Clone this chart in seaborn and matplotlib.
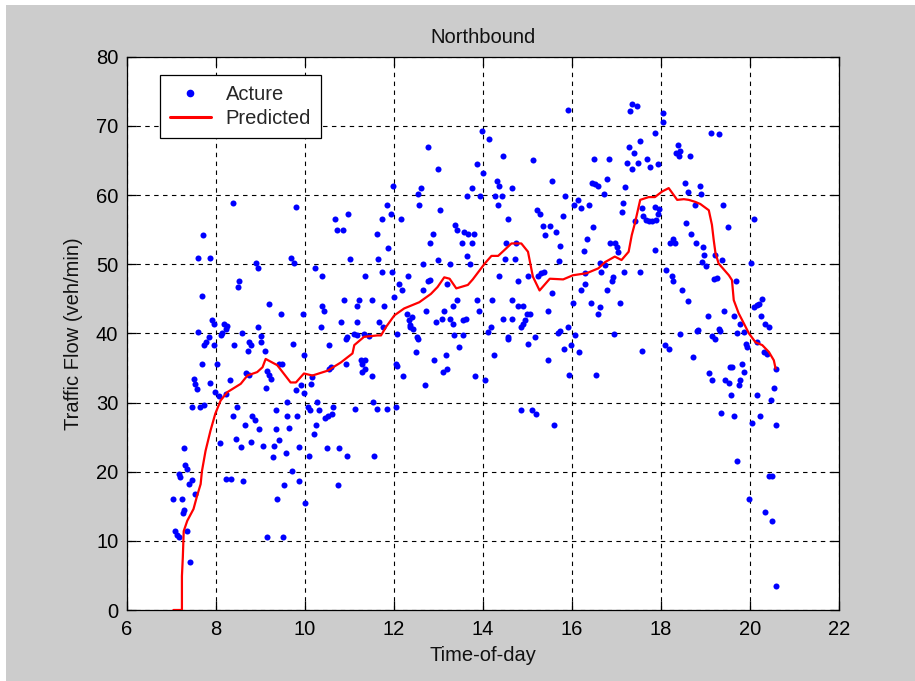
import matplotlib
matplotlib.use("Agg")
import matplotlib.pyplot as plt
from matplotlib.lines import Line2D
from matplotlib.patches import Rectangle
import seaborn as sns
import pandas as pd

# Observed traffic flow (time of day in hours, flow in veh/min)
acture_time = [
    8.39, 9.80, 10.67, 10.72, 7.72, 7.60, 7.86, 8.91, 8.95, 9.68, 9.75, 10.23, 10.39, 8.53, 8.50, 7.68,
    9.20, 9.46, 9.95, 10.39, 10.42, 7.92, 7.96, 8.18, 8.22, 8.15, 8.25, 7.60, 7.84, 8.58, 8.95, 9.01,
    10.36, 10.81,
    7.77, 7.73, 7.96, 8.11, 8.42, 8.74, 8.78, 8.72, 9.01, 9.10, 9.73, 9.98, 10.55, 7.69, 8.02, 7.50,
    7.53, 7.57, 7.86, 7.98, 8.07, 8.32, 8.23, 8.67, 8.74, 9.16, 9.20, 9.23, 9.42, 9.49, 9.13, 9.80,
    9.91, 9.97, 10.13, 10.17, 10.55, 10.58, 7.47, 7.64, 7.73, 8.47, 8.39, 8.65, 8.82, 8.88, 8.98, 9.36,
    9.36, 9.59, 9.64, 9.61, 9.83, 10.06, 10.12, 10.28, 10.32, 10.45, 10.51, 10.62, 10.64, 10.25, 10.20, 8.09,
    8.46, 8.57, 8.78, 9.06, 9.31, 9.42, 9.28, 9.57, 9.87, 10.10, 10.49, 10.77, 7.28, 7.32, 7.36, 7.17,
    7.20, 7.47, 7.39, 7.53, 7.05, 7.24, 7.28, 7.26, 7.08, 7.13, 7.17, 7.36, 7.43, 8.23, 8.35, 8.61,
    9.72, 9.86, 9.53, 9.38, 10.00, 10.75, 9.16, 9.50,
    13.98, 14.13, 12.76, 14.46, 12.99, 13.86, 14.01, 14.31, 14.35, 14.64, 11.97, 12.60, 12.54, 13.75, 13.65, 13.94,
    14.26, 14.43, 14.34, 12.57, 11.84, 10.98, 10.85, 11.73, 11.94, 12.16, 13.04, 14.56, 13.38, 13.42, 13.57, 13.66,
    13.80, 12.87, 12.82, 11.61, 11.87, 13.53, 13.75, 14.52, 13.65, 11.02, 11.65, 12.99, 12.65, 13.25, 13.70, 14.49,
    11.35, 11.73, 11.96, 12.31, 12.12, 12.18, 12.76, 12.80, 12.65, 13.20, 14.37, 10.87, 11.22, 11.17, 11.50, 11.78,
    12.01, 12.72, 13.12, 13.32, 13.42, 13.86, 13.90, 14.21, 11.17, 11.67, 11.75, 12.30, 12.33, 12.36, 12.40,
    12.42, 12.37, 12.95, 13.08, 13.27, 13.32, 13.55, 13.62, 14.45, 14.64, 14.19, 14.11, 10.94, 11.11, 11.33, 12.08,
    12.52, 13.36, 13.55,
    10.93, 11.18, 11.45, 10.92, 11.26, 11.28, 11.36, 11.35, 11.29, 11.50, 12.54, 12.50, 12.05, 12.07, 12.20, 12.69,
    12.91, 13.17, 13.10, 13.20, 13.46, 13.83, 14.05, 14.24, 14.56, 11.12, 11.54, 11.62, 11.84, 12.05, 10.94, 11.56,
    17.34, 17.45, 17.30, 15.90, 18.05, 18.05, 17.86, 17.53, 17.27, 17.38, 15.12, 16.50, 16.82, 17.23, 17.49, 17.68,
    17.75, 17.94, 17.34, 15.56, 16.44, 16.51, 16.59, 16.79, 17.19, 16.72, 15.84, 16.14, 16.05, 16.20, 16.38, 17.15,
    17.11, 15.22, 15.27, 15.79, 17.58, 17.60, 17.66, 17.73, 17.80, 17.88, 17.92, 17.95, 17.86, 17.41, 15.35, 15.50,
    15.40, 15.63, 16.46, 16.34, 15.74, 16.27, 16.85, 16.96, 17.00, 17.04, 14.75, 18.19, 18.26, 18.31, 17.86, 14.71,
    15.71, 16.66, 16.62, 16.75, 15.31, 15.36, 15.24, 15.01, 14.79, 16.29, 16.28, 16.21, 16.93, 16.89, 16.79, 17.17,
    17.53, 18.11, 18.24, 18.26, 18.47, 15.54, 16.01, 16.42, 17.08, 16.63, 16.59, 14.64, 14.79, 14.90, 14.98, 15.05,
    14.94, 14.86, 14.90, 15.45, 15.73, 15.69, 15.90, 16.06, 14.56, 15.16,
    15.01, 15.82, 15.97, 16.16, 15.46, 15.94, 16.53, 16.94, 17.57, 18.08, 18.17, 18.43, 14.86, 15.09, 15.18, 15.59,
    19.12, 19.31, 18.37, 18.33, 18.43, 18.39, 18.64, 18.53, 18.60, 18.87, 18.90, 18.75, 19.38, 18.56, 19.49, 20.08,
    18.68, 18.79, 18.94, 18.97, 18.92, 19.01, 19.22, 19.37, 20.01, 18.60, 19.19, 19.26, 19.67, 19.41, 19.05, 19.63,
    20.08, 20.16, 20.27, 20.19, 20.25, 20.34, 20.42, 19.77, 19.31, 18.83, 19.14, 19.22, 19.71, 19.86,
    18.80, 19.33, 18.71, 19.90, 19.93, 20.16, 20.31, 20.38, 20.57, 19.07, 19.14, 19.55, 19.59, 19.81, 19.86, 19.44,
    19.52, 19.77, 19.74, 19.57, 20.16, 20.53, 20.46, 19.34, 19.63, 20.23, 20.05, 20.57, 19.71, 20.42, 20.49, 19.97,
    20.34, 20.49, 20.57,
]
acture_flow = [
    58.9, 58.3, 56.6, 54.9, 54.2, 50.9, 50.9, 50.2, 49.4, 50.9, 50.1, 49.5, 48.3, 47.5, 46.7, 45.4,
    44.2, 42.8, 42.8, 44.0, 43.2, 42.0, 41.4, 41.3, 40.6, 40.0, 41.0, 40.2, 39.5, 40.0, 40.9, 39.6,
    40.9, 41.6,
    38.7, 38.3, 38.3, 39.7, 38.3, 38.7, 38.3, 37.5, 38.7, 37.5, 38.5, 36.8, 38.3, 35.5, 35.5, 33.4,
    32.7, 32.0, 32.8, 31.5, 31.0, 33.2, 31.2, 34.2, 34.0, 34.6, 34.0, 33.4, 35.5, 35.5, 32.1, 31.8,
    32.5, 31.4, 32.7, 33.7, 34.9, 35.1, 29.4, 29.4, 29.7, 29.4, 28.0, 26.8, 28.0, 27.4, 26.1, 28.9,
    26.1, 28.0, 26.3, 30.1, 28.0, 29.4, 28.9, 30.1, 28.9, 27.7, 28.0, 28.4, 29.4, 26.7, 25.4, 24.2,
    24.7, 23.5, 24.3, 23.7, 23.7, 24.6, 22.1, 22.7, 23.5, 22.3, 23.4, 23.4, 23.4, 20.9, 20.4, 19.6,
    19.3, 18.8, 18.2, 16.8, 16.1, 16.1, 14.5, 14.0, 11.4, 10.9, 10.5, 11.4, 6.9, 18.9, 18.9, 18.7,
    20.1, 18.7, 18.1, 16.1, 15.5, 18.1, 10.6, 10.6,
    69.3, 68.1, 66.9, 65.7, 63.7, 64.5, 63.2, 62.1, 61.3, 61.0, 61.3, 61.0, 60.1, 61.0, 59.8, 59.8,
    59.8, 59.8, 58.5, 58.5, 58.5, 57.3, 54.9, 56.6, 57.2, 56.6, 57.8, 56.6, 55.6, 54.9, 54.7, 54.3,
    54.3, 54.3, 53.1, 54.3, 52.4, 53.1, 53.1, 53.1, 51.2, 50.7, 50.7, 50.6, 50.0, 50.0, 50.0, 50.7,
    48.3, 48.8, 48.8, 48.3, 47.2, 46.3, 47.5, 47.7, 46.3, 47.1, 48.3, 44.8, 44.8, 43.9, 44.8, 43.9,
    45.2, 43.3, 43.3, 43.9, 44.8, 44.8, 43.3, 44.8, 41.6, 41.6, 40.9, 42.8, 41.9, 41.2, 42.3,
    40.6, 40.9, 41.6, 42.1, 42.1, 41.4, 41.9, 42.1, 42.1, 42.1, 40.9, 40.2, 39.5, 39.9, 39.9, 39.9,
    39.5, 39.7, 39.7,
    39.2, 39.8, 39.6, 35.6, 36.1, 35.6, 36.1, 34.9, 34.4, 33.8, 39.2, 37.3, 35.6, 35.3, 33.8, 32.6,
    36.1, 36.8, 34.4, 34.9, 38.0, 33.8, 33.2, 36.8, 39.2, 29.0, 30.1, 29.0, 29.0, 29.4, 22.3, 22.3,
    73.1, 72.8, 72.1, 72.3, 71.8, 70.6, 69.0, 67.8, 66.9, 66.1, 65.0, 65.2, 65.2, 64.7, 64.7, 65.2,
    64.0, 64.5, 63.8, 62.1, 61.8, 61.6, 61.3, 62.3, 61.1, 60.1, 59.9, 59.3, 58.5, 58.1, 58.5, 58.8,
    57.6, 57.8, 57.2, 57.0, 58.1, 57.0, 56.4, 56.2, 56.2, 56.4, 57.3, 58.0, 58.3, 56.2, 55.5, 55.5,
    54.2, 54.7, 55.4, 53.7, 52.6, 51.9, 53.1, 53.1, 52.5, 51.8, 53.1, 53.1, 53.7, 53.1, 52.1, 50.7,
    50.4, 48.9, 50.1, 49.9, 48.7, 48.9, 48.3, 48.3, 47.5, 48.7, 47.2, 46.2, 48.2, 47.5, 46.2, 48.8,
    48.8, 49.2, 48.3, 47.5, 46.3, 45.8, 44.4, 44.4, 44.4, 43.8, 42.8, 44.8, 43.9, 43.9, 42.8, 42.8,
    41.9, 40.9, 41.4, 43.2, 40.4, 40.0, 40.9, 39.7, 39.5, 39.5,
    38.5, 37.8, 38.3, 37.3, 36.1, 34.0, 34.0, 39.9, 37.5, 38.3, 37.8, 39.9, 28.9, 28.9, 28.3, 26.8,
    69.0, 68.8, 67.3, 66.1, 66.4, 65.6, 65.7, 61.8, 60.4, 61.3, 60.1, 58.5, 58.5, 55.9, 55.4, 56.6,
    54.3, 53.0, 52.5, 51.4, 50.3, 49.7, 51.3, 50.6, 50.2, 44.7, 47.8, 48.0, 47.6, 43.3, 42.5, 42.5,
    43.8, 44.1, 44.9, 44.3, 42.5, 41.4, 40.9, 41.4, 40.7, 40.5, 39.6, 39.2, 40.0, 40.2,
    40.3, 40.4, 36.6, 38.5, 38.0, 38.7, 37.3, 37.0, 34.9, 34.2, 33.3, 35.2, 35.2, 35.5, 34.4, 33.3,
    32.8, 33.2, 32.6, 31.1, 31.1, 32.1, 30.4, 28.5, 28.0, 28.0, 27.1, 26.8, 21.6, 19.4, 19.4, 16.0,
    14.2, 12.8, 3.5,
]

# Model output along the day
predicted_time = [
    7.05, 7.24, 7.24, 7.26, 7.28, 7.36, 7.50, 7.58, 7.66, 7.69, 7.77, 7.88, 7.99, 8.11, 8.26, 8.56,
    8.71, 8.93, 9.05, 9.12, 9.38, 9.68, 9.80, 9.98, 10.17, 10.51, 10.81, 11.07, 11.11, 11.33, 11.63, 11.71,
    11.82, 12.01, 12.23, 12.57, 12.83, 12.98, 13.13, 13.25, 13.40, 13.66, 13.77, 14.04, 14.19, 14.34, 14.64, 14.86,
    15.01, 15.12, 15.27, 15.50, 15.80, 16.02, 16.33, 16.59, 16.74, 16.96, 17.11, 17.27, 17.34, 17.41, 17.53, 17.72,
    17.86, 18.02, 18.17, 18.36, 18.51, 18.62, 18.77, 18.88, 19.07, 19.14, 19.18, 19.22, 19.29, 19.52, 19.59, 19.63,
    19.74, 19.86, 19.97, 20.12, 20.27, 20.42, 20.53, 20.57,
]
predicted_flow = [
    0.0, 0.0, 4.9, 7.6, 11.4, 12.9, 14.6, 16.5, 18.2, 20.1, 23.0, 25.9, 28.4, 30.3, 31.5, 32.7,
    33.9, 34.4, 35.1, 36.3, 35.4, 32.9, 32.9, 34.2, 33.9, 34.6, 35.8, 37.1, 38.3, 39.5, 39.7, 39.7,
    40.9, 42.6, 43.6, 44.5, 45.7, 46.7, 48.1, 47.9, 46.5, 47.0, 47.8, 50.1, 51.2, 51.2, 53.0, 53.0,
    51.8, 48.2, 46.2, 47.9, 47.8, 48.4, 48.7, 49.4, 50.3, 51.1, 50.6, 51.8, 54.2, 55.9, 59.3, 59.7,
    59.7, 60.5, 61.0, 59.3, 59.4, 59.3, 59.0, 58.7, 57.8, 55.7, 53.5, 51.6, 50.1, 48.4, 47.7, 44.8,
    42.9, 41.4, 40.0, 38.7, 38.3, 37.3, 36.1, 34.9,
]

x_ticks = [6, 8, 10, 12, 14, 16, 18, 20, 22]
y_ticks = [0, 10, 20, 30, 40, 50, 60, 70, 80]

acture = pd.DataFrame({"time": acture_time, "flow": acture_flow})
predicted = pd.DataFrame({"time": predicted_time, "flow": predicted_flow})

sns.set_style("white")
plt.rcParams["font.family"] = ["Liberation Sans", "DejaVu Sans"]
FS = 14.5
GRAY = "#cccccc"

fig = plt.figure(figsize=(9.15, 6.81), dpi=100, facecolor="white")
fig.patches.append(Rectangle((6 / 915, 0), 1, 1 - 5 / 681, transform=fig.transFigure,
                             facecolor=GRAY, edgecolor="none", zorder=-10))
ax = fig.add_axes([126.7 / 915, 1 - 610 / 681, (839.3 - 126.7) / 915, (610 - 56.7) / 681])
ax.set_facecolor("white")

sns.scatterplot(data=acture, x="time", y="flow", ax=ax, color="#0000ff", s=19,
                linewidth=0, marker="o", zorder=3, legend=False)
sns.lineplot(data=predicted, x="time", y="flow", ax=ax, color="#ff0000", linewidth=1.6,
             sort=False, estimator=None, zorder=4, legend=False)

ax.set_xlim(6, 22)
ax.set_ylim(0, 80)
ax.set_xticks(x_ticks)
ax.set_yticks(y_ticks)
ax.set_xticklabels([str(t) for t in x_ticks])
ax.set_yticklabels([str(t) for t in y_ticks])

ax.grid(True, color="black", linestyle=(0, (4, 4)), linewidth=0.8, zorder=1)
ax.set_axisbelow(True)
for sp in ax.spines.values():
    sp.set_visible(True)
    sp.set_color("black")
    sp.set_linewidth(0.9)
ax.tick_params(direction="in", length=6.5, width=0.9, colors="black", labelsize=FS,
               top=True, right=True, bottom=True, left=True)
ax.tick_params(axis="x", pad=7)
ax.tick_params(axis="y", pad=6)

ax.set_title("Northbound", fontsize=FS, color="#111111", pad=10)
ax.set_xlabel("Time-of-day", fontsize=FS, color="#111111", labelpad=5)
ax.set_ylabel("Traffic Flow (veh/min)", fontsize=FS, color="#111111", labelpad=9)

handles = [
    Line2D([], [], color="#0000ff", marker="o", markersize=4.5, linestyle="none"),
    Line2D([], [], color="#ff0000", linewidth=2.2),
]
leg = ax.legend(handles, ["Acture", "Predicted"], loc="upper left",
                bbox_to_anchor=(0.047, 0.967), borderaxespad=0, fontsize=FS,
                frameon=True, fancybox=False, framealpha=1, edgecolor="black",
                handlelength=2.0, handletextpad=0.75, labelspacing=0.25, borderpad=0.5)
leg.get_frame().set_linewidth(0.9)

fig.savefig("out.png", dpi=100, facecolor=fig.get_facecolor())
